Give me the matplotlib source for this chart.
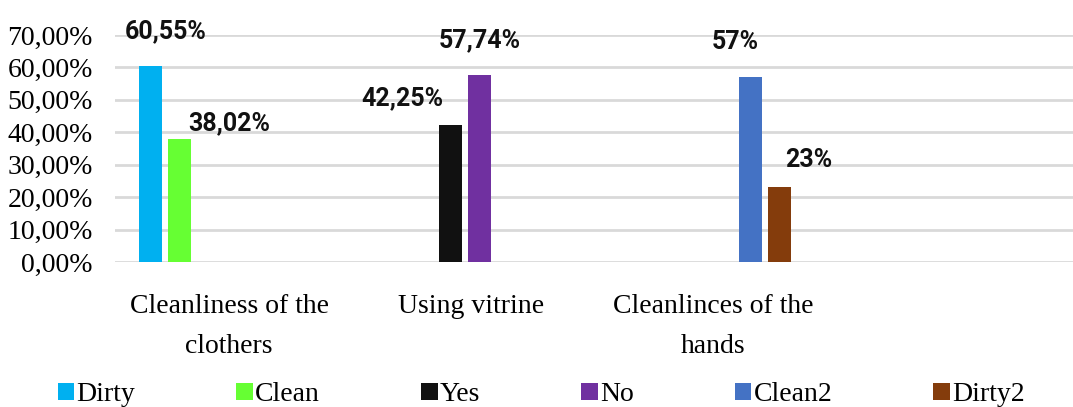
import matplotlib
matplotlib.use("Agg")
import matplotlib.pyplot as plt
from matplotlib.ticker import FuncFormatter

categories = ["Cleanliness of the\nclothers", "Using vitrine", "Cleanlinces of the\nhands"]
series_names = ["Dirty", "Clean", "Yes", "No", "Clean2", "Dirty2"]
# each series only has a value in one category
series_category = [0, 0, 1, 1, 2, 2]
series_values = [0.6055, 0.3802, 0.4225, 0.5774, 0.57, 0.23]
value_labels = ["60,55%", "38,02%", "42,25%", "57,74%", "57%", "23%"]
y_ticks = [0.0, 0.1, 0.2, 0.3, 0.4, 0.5, 0.6, 0.7]

colors = ["#00B0F0", "#66FF33", "#111111", "#7030A0", "#4472C4", "#843C0C"]
# baseline of each data label relative to the top of its bar (points)
label_offsets = [(11, 20), (36, 6), (-35, 14.5), (0, 19.5), (-11, 20), (20.5, 14.5)]

serif = ["Liberation Serif", "DejaVu Serif"]
label_font = ["Roboto", "DejaVu Sans"]

fig = plt.figure(figsize=(10.73, 4.07), dpi=100)
ax = fig.add_axes([115 / 1073, 1 - 262 / 407, 958 / 1073, 227 / 407])

slot = 0.12
bar_w = 0.095
bars = []
for i, name in enumerate(series_names):
    x = series_category[i] + (i - 2.5) * slot
    b = ax.bar(x, series_values[i], width=bar_w, color=colors[i], label=name, zorder=3)
    bars.append(b)
    ax.annotate(value_labels[i], (x, series_values[i]), xytext=label_offsets[i],
                textcoords="offset points", ha="center", va="baseline",
                fontsize=18, fontweight="bold", family=label_font, color="#111111")

ax.set_ylim(0, 0.7)
ax.set_xlim(-0.446, 3.51)
ax.set_yticks(y_ticks)
ax.yaxis.set_major_formatter(FuncFormatter(lambda v, p: f"{v * 100:.2f}%".replace(".", ",")))
# category names sit a little right of the group centre
ax.set_xticks([i + 0.025 for i in range(len(categories))])
ax.set_xticklabels(categories, family=serif, fontsize=20, linespacing=1.8)
for t in ax.get_yticklabels():
    t.set_family(serif)
    t.set_fontsize(20)
ax.tick_params(axis="y", length=0, pad=16)
ax.tick_params(axis="x", length=0, pad=23)
ax.grid(axis="y", color="#D9D9D9", linewidth=2, zorder=0)
for s in ax.spines.values():
    s.set_visible(False)

fig.legend(handles=bars, labels=series_names, loc="lower left", ncol=6,
           bbox_to_anchor=(0.0434, -0.028, 0.922, 0.1), mode="expand",
           frameon=False, prop={"family": serif, "size": 20},
           handlelength=0.6, handleheight=0.6, handletextpad=0.08, borderaxespad=0)

fig.savefig("out.png", dpi=100)
